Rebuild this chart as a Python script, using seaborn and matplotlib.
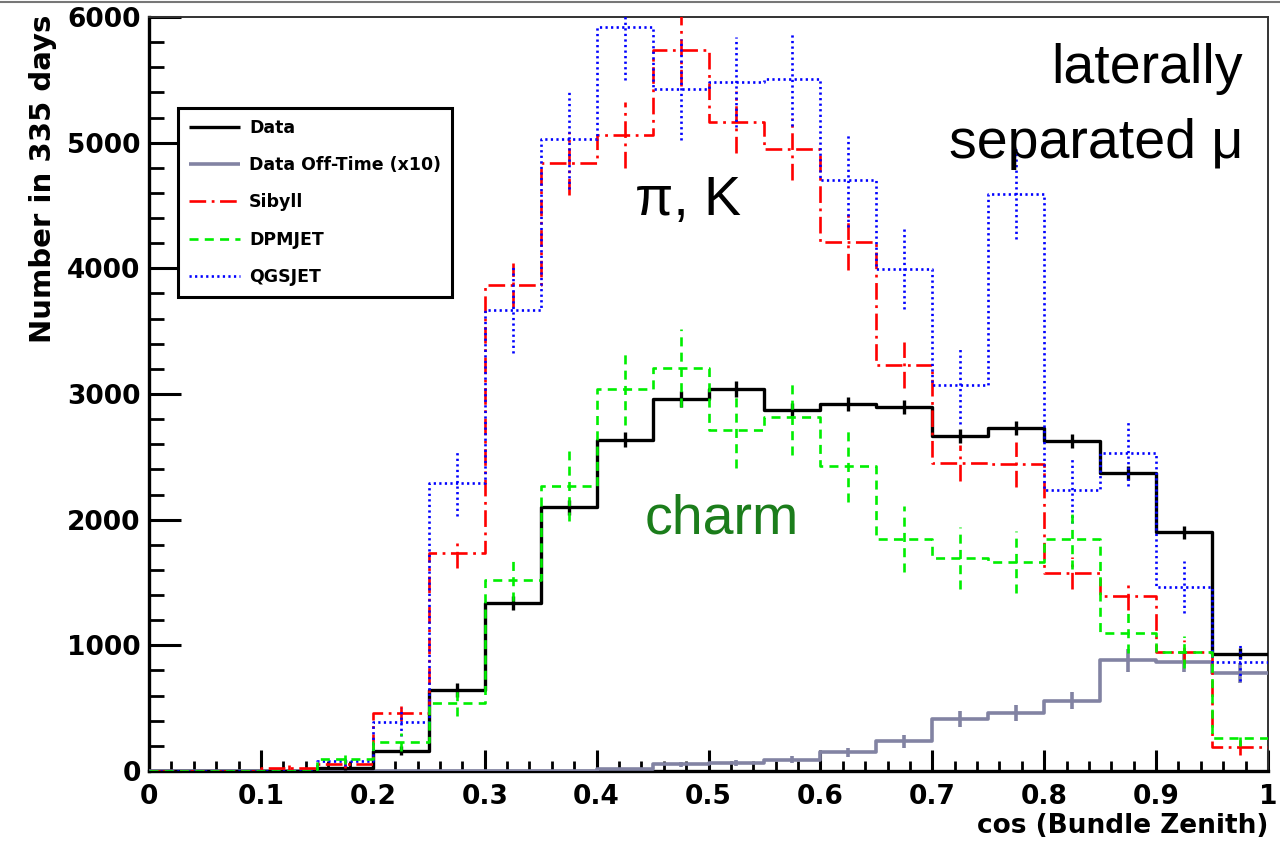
import numpy as np
import pandas as pd
import matplotlib
matplotlib.use("Agg")
import matplotlib.pyplot as plt
from matplotlib.lines import Line2D
from matplotlib.ticker import MultipleLocator, FixedLocator
import seaborn as sns

# ---- binning: cos(bundle zenith), 20 bins of width 0.05 ----
bin_edges = [0.00, 0.05, 0.10, 0.15, 0.20, 0.25, 0.30, 0.35, 0.40, 0.45, 0.50,
             0.55, 0.60, 0.65, 0.70, 0.75, 0.80, 0.85, 0.90, 0.95, 1.00]

# ---- counts per bin and their uncertainties ----
data_counts = [0, 0, 0, 25, 160, 645, 1340, 2100, 2635, 2960,
               3040, 2870, 2920, 2895, 2665, 2730, 2625, 2370, 1900, 935]
data_err = [0, 0, 0, 15, 35, 55, 55, 60, 60, 60,
            60, 55, 55, 55, 55, 55, 55, 55, 50, 45]

offtime_counts = [0, 0, 0, 0, 0, 0, 0, 0, 15, 55,
                  65, 90, 150, 235, 415, 460, 560, 880, 870, 780]
offtime_err = [0, 0, 0, 0, 0, 0, 0, 0, 10, 20,
               25, 30, 35, 50, 65, 65, 70, 90, 80, 80]

sibyll_counts = [0, 0, 25, 55, 460, 1735, 3866, 4837, 5060, 5736,
                 5163, 4948, 4210, 3230, 2450, 2440, 1575, 1390, 950, 190]
sibyll_err = [0, 0, 20, 30, 60, 120, 175, 250, 265, 285,
              245, 245, 220, 185, 145, 180, 125, 110, 95, 60]

dpmjet_counts = [0, 0, 0, 95, 230, 540, 1520, 2267, 3040, 3208,
                 2713, 2817, 2427, 1845, 1695, 1663, 1845, 1098, 947, 262]
dpmjet_err = [0, 0, 0, 40, 70, 100, 165, 280, 290, 310,
              305, 305, 290, 260, 245, 250, 240, 160, 125, 60]

qgsjet_counts = [0, 0, 0, 80, 390, 2290, 3667, 5028, 5919, 5425,
                 5481, 5505, 4702, 3993, 3070, 4590, 2235, 2530, 1465, 867]
qgsjet_err = [0, 0, 0, 40, 110, 260, 340, 400, 420, 400,
              360, 370, 370, 320, 305, 360, 260, 265, 205, 150]

series_labels = ["Data", "Data Off-Time (x10)", "Sibyll", "DPMJET", "QGSJET"]

x_ticks = [0, 0.1, 0.2, 0.3, 0.4, 0.5, 0.6, 0.7, 0.8, 0.9, 1]
x_ticklabels = ["0", "0.1", "0.2", "0.3", "0.4", "0.5", "0.6", "0.7", "0.8", "0.9", "1"]
y_ticks = [0, 1000, 2000, 3000, 4000, 5000, 6000]
y_ticklabels = ["0", "1000", "2000", "3000", "4000", "5000", "6000"]

# ---- styling ----
sns.set_style("ticks")
plt.rcParams["font.family"] = ["DejaVu Sans"]
plt.rcParams["text.color"] = "black"
plt.rcParams["axes.labelcolor"] = "black"
plt.rcParams["xtick.color"] = "black"
plt.rcParams["ytick.color"] = "black"
plt.rcParams["lines.scale_dashes"] = False
plt.rcParams["lines.solid_capstyle"] = "butt"
plt.rcParams["lines.dash_capstyle"] = "butt"

styles = [
    dict(color="black", lw=2.4, ls="-", z=4),
    dict(color="#8283a3", lw=2.6, ls="-", z=3),
    dict(color="#ff0000", lw=1.9, ls=(0, (12, 4, 2, 4)), z=5),
    dict(color="#00ee00", lw=1.9, ls=(0, (6.5, 4.5)), z=7),
    dict(color="#0000ff", lw=1.9, ls=(0, (1.6, 2.4)), z=6),
]
all_counts = [data_counts, offtime_counts, sibyll_counts, dpmjet_counts, qgsjet_counts]
all_err = [data_err, offtime_err, sibyll_err, dpmjet_err, qgsjet_err]

fig = plt.figure(figsize=(12.8, 8.49), dpi=100)
ax = fig.add_axes([149 / 1280, 1 - 771 / 849, 1119 / 1280, 754 / 849])

edges = np.array(bin_edges)
centers = 0.5 * (edges[:-1] + edges[1:])

for counts, err, st in zip(all_counts, all_err, styles):
    frame = pd.DataFrame({"cos_zenith": centers, "count": counts})
    sns.histplot(data=frame, x="cos_zenith", weights="count", bins=bin_edges,
                 element="step", fill=False, color=st["color"],
                 linewidth=st["lw"], linestyle=st["ls"], zorder=st["z"], ax=ax)
    eb = ax.errorbar(centers, counts, yerr=err, fmt="none", ecolor=st["color"],
                     elinewidth=st["lw"], capsize=0, zorder=st["z"])
    eb.lines[2][0].set_linestyle(st["ls"])

ax.set_xlim(0, 1)
ax.set_ylim(0, 6000)

# axis frame: thick left/bottom, thin top/right
for side in ("left", "bottom"):
    ax.spines[side].set_linewidth(2.4)
    ax.spines[side].set_color("black")
for side in ("top", "right"):
    ax.spines[side].set_linewidth(1.4)
    ax.spines[side].set_color("#333333")
    ax.spines[side].set_visible(True)

ax.xaxis.set_major_locator(FixedLocator(x_ticks))
ax.set_xticklabels(x_ticklabels)
ax.xaxis.set_minor_locator(MultipleLocator(0.02))
ax.yaxis.set_major_locator(FixedLocator(y_ticks))
ax.set_yticklabels(y_ticklabels)
ax.yaxis.set_minor_locator(MultipleLocator(200))

ax.tick_params(axis="x", which="major", direction="in", length=15, width=2.2,
               pad=9, labelsize=19, colors="black")
ax.tick_params(axis="x", which="minor", direction="in", length=7.5, width=2.0,
               colors="black")
ax.tick_params(axis="y", which="major", direction="in", length=23, width=2.2,
               pad=6, labelsize=19, colors="black")
ax.tick_params(axis="y", which="minor", direction="in", length=11, width=2.0,
               colors="black")
for lab in ax.get_xticklabels() + ax.get_yticklabels():
    lab.set_fontweight("bold")

ax.set_xlabel("cos (Bundle Zenith)", fontsize=19, fontweight="bold", loc="right",
              color="black")
ax.xaxis.set_label_coords(1.0, -0.056)
ax.set_ylabel("Number in 335 days", fontsize=21, fontweight="bold", loc="top",
              color="black")
ax.yaxis.set_label_coords(-0.082, 1.003)

# legend
handles = [Line2D([0], [0], color=st["color"], lw=st["lw"], ls=st["ls"]) for st in styles]
leg = ax.legend(handles, series_labels, loc="upper left",
                bbox_to_anchor=((178 - 149) / 1119, (771 - 108) / 754),
                borderaxespad=0, frameon=True, fancybox=False, handlelength=2.9,
                handletextpad=0.55, labelspacing=1.1, borderpad=0.65,
                prop=dict(family=["DejaVu Sans"], weight="bold", size=12.5))
leg.get_frame().set_edgecolor("black")
leg.get_frame().set_linewidth(2.2)
leg.get_frame().set_facecolor("white")
leg.get_frame().set_alpha(1)
leg.set_zorder(10)
for t in leg.get_texts():
    t.set_color("black")

# annotations
ann_font = dict(family=["Liberation Sans", "DejaVu Sans"], weight="normal", size=40)
fig.text(1243 / 1280, 1 - 83 / 849, "laterally", ha="right", va="baseline",
         color="black", **ann_font)
fig.text(1243 / 1280, 1 - 158 / 849, "separated μ", ha="right", va="baseline",
         color="black", **ann_font)
fig.text(688 / 1280, 1 - 215 / 849, "π, K", ha="center", va="baseline",
         color="black", **ann_font)
fig.text(722 / 1280, 1 - 533 / 849, "charm", ha="center", va="baseline",
         color="#1b7d1b", **ann_font)

# thin border along the top of the canvas
fig.add_artist(Line2D([0, 1], [0.998, 0.998], transform=fig.transFigure,
                      color="#777777", lw=1.5))

fig.savefig("out.png", dpi=100)
